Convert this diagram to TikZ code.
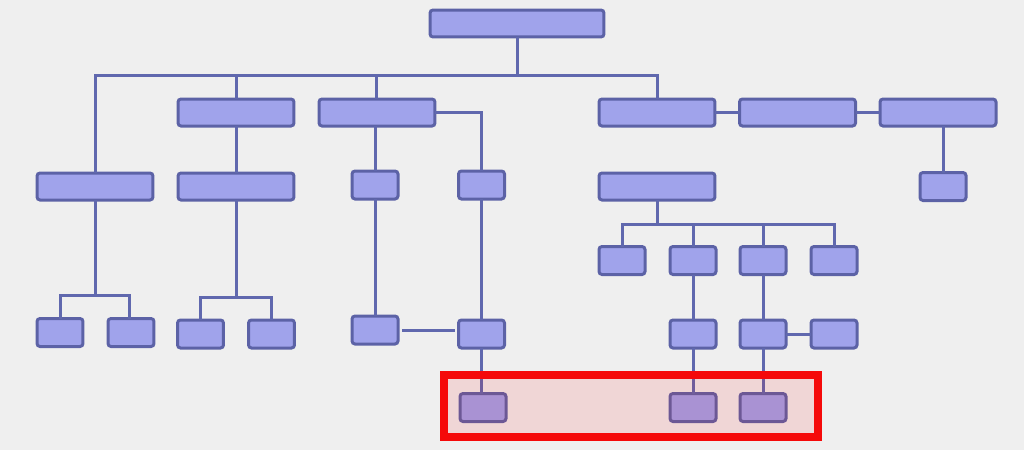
\documentclass[tikz,border=0pt]{standalone}
\usetikzlibrary{calc}
\definecolor{bgcol}{HTML}{EFEFEF}
\definecolor{boxfill}{HTML}{A0A3EB}
\definecolor{boxline}{HTML}{5C62A6}
\definecolor{conn}{HTML}{6068AE}
\definecolor{hlred}{HTML}{F50A0A}
\begin{document}
\begin{tikzpicture}[x=0.02cm,y=-0.02cm,
  box/.style={draw=boxline,fill=boxfill,line width=0.06cm,rounded corners=0.06cm,inner sep=0pt,outer sep=0pt},
  wide/.style={box,minimum width=2.32cm,minimum height=0.54cm},
  top/.style={box,minimum width=3.48cm,minimum height=0.54cm},
  small/.style={box,minimum width=0.92cm,minimum height=0.56cm},
  link/.style={draw=conn,line width=0.06cm}]
\fill[bgcol] (0,0) rectangle (1024,450);
\useasboundingbox (0,0) rectangle (1024,450);
% nodes
\node[top] (T) at (517,23.5) {};
\node[wide] (A) at (236,112.5) {};
\node[wide] (B) at (377,112.5) {};
\node[wide] (C) at (657,112.5) {};
\node[wide] (D) at (797.5,112.5) {};
\node[wide] (E) at (938,112.5) {};
\node[wide] (F) at (95,186.5) {};
\node[wide] (G) at (236,186.5) {};
\node[small] (H) at (375,185) {};
\node[small] (I) at (481.5,185) {};
\node[wide] (J) at (657,186.5) {};
\node[small] (K) at (943,186.5) {};
\node[small] (L1) at (60,332.5) {};
\node[small] (L2) at (131,332.5) {};
\node[small] (L3) at (200.5,334) {};
\node[small] (L4) at (271.5,334) {};
\node[small] (M) at (375,330) {};
\node[small] (N) at (481.5,334) {};
\node[small] (P1) at (622,260.5) {};
\node[small] (P2) at (693,260.5) {};
\node[small] (P3) at (763,260.5) {};
\node[small] (P4) at (834,260.5) {};
\node[small] (Q2) at (693,334) {};
\node[small] (Q3) at (763,334) {};
\node[small] (Q4) at (834,334) {};
\node[small] (O1) at (483,407.5) {};
\node[small] (R2) at (693,407.5) {};
\node[small] (R3) at (763,407.5) {};
% bus coordinates
\coordinate (b1) at (517,75);
\coordinate (fb) at (95,295);
\coordinate (gb) at (236,297);
\coordinate (jb) at (657,224);
% connectors
\path[link] (T.south) -- (b1);
\path[link] (F.north) |- (b1) -| (C.north);
\path[link] (A.north) -- (A.north |- b1);
\path[link] ([xshift=-0.02cm]B.north) -- ([xshift=-0.02cm]B.north |- b1);
\path[link] (B.east) -| (I.north);
\path[link] (C.east) -- (D.west);
\path[link] (D.east) -- (E.west);
\path[link] (K.north) -- (K.north |- E.south);
\path[link] (A.south) -- (G.north);
\path[link] (H.north) -- (H.north |- B.south);
\path[link] (F.south) -- (fb);
\path[link] (L1.north) |- (fb) -| ([xshift=-0.04cm]L2.north);
\path[link] (G.south) -- (gb);
\path[link] (L3.north) |- (gb) -| (L4.north);
\path[link] (H.south) -- (M.north);
\path[link] (I.south) -- (N.north);
\path[link,shorten <=0.08cm,shorten >=0.08cm] (M.east) -- (M.east -| N.west);
\path[link] (N.south) -- (N.south |- O1.north);
\path[link] (J.south) -- (jb);
\path[link] (P1.north) |- (jb) -| (P4.north);
\path[link] (P2.north) -- (P2.north |- jb);
\path[link] (P3.north) -- (P3.north |- jb);
\path[link] (P2.south) -- (Q2.north);
\path[link] (P3.south) -- (Q3.north);
\path[link] (Q3.east) -- (Q4.west);
\path[link] (Q2.south) -- (R2.north);
\path[link] (Q3.south) -- (R3.north);
% highlight
\draw[hlred,line width=0.16cm,fill=red,fill opacity=0.1] (444,375) rectangle (818,437);
\end{tikzpicture}
\end{document}
